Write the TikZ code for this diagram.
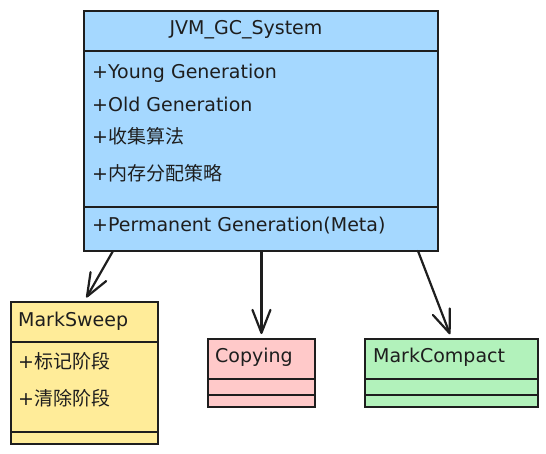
\documentclass[tikz,border=0pt]{standalone}
\usepackage{fontspec}
\setmainfont{DejaVu Sans}
\newfontfamily\cjk{Noto Sans CJK SC}
\usetikzlibrary{arrows.meta,calc}
\definecolor{ink}{HTML}{1E1E1E}
\definecolor{cblue}{HTML}{A5D8FF}
\definecolor{cyellow}{HTML}{FFEC99}
\definecolor{cpink}{HTML}{FFC9C9}
\definecolor{cgreen}{HTML}{B2F2BB}
\tikzset{
  umlbox/.style={draw=ink, line width=1.9pt, anchor=north west, inner sep=0pt, minimum width=#1},
  divider/.style={draw=ink, line width=1.5pt},
  lbl/.style={anchor=base west, inner sep=0pt, text=ink, font=\fontsize{19}{22}\selectfont},
  arr/.style={draw=ink, line width=2.2pt, line cap=round, shorten >=4pt,
    -{Straight Barb[length=23pt,width=18pt,line width=2.2pt,round]}}
}
\begin{document}
\begin{tikzpicture}[x=1pt,y=-1pt]
\useasboundingbox (0,0) rectangle (546,453);
% main class
\node[umlbox=354pt, fill=cblue, minimum height=240pt] (main) at (83,10) {};
\draw[divider] (83,51) -- (437,51);
\draw[divider] (83,207) -- (437,207);
\node[lbl, anchor=base] (t0) at (246,34) {JVM\_GC\_System};
\node[lbl] (t1) at (92,78) {+Young Generation};
\node[lbl] (t2) at (92,111) {+Old Generation};
\node[lbl] (t3) at (92,143) {+{\cjk 收集算法}};
\node[lbl] (t4) at (92,180) {+{\cjk 内存分配策略}};
\node[lbl] (t5) at (92,231) {+Permanent Generation(Meta)};
% MarkSweep
\node[umlbox=147pt, fill=cyellow, minimum height=142pt] (ms) at (10,301) {};
\draw[divider] (10,342) -- (157,342);
\draw[divider] (10,432) -- (157,432);
\node[lbl] (m0) at (18,326) {MarkSweep};
\node[lbl] (m1) at (18,368) {+{\cjk 标记阶段}};
\node[lbl] (m2) at (18,405) {+{\cjk 清除阶段}};
% Copying
\node[umlbox=107pt, fill=cpink, minimum height=68pt] (cp) at (207,338) {};
\draw[divider] (207,379) -- (314,379);
\draw[divider] (207,395) -- (314,395);
\node[lbl] (c0) at (215,362) {Copying};
% MarkCompact
\node[umlbox=173pt, fill=cgreen, minimum height=68pt] (mc) at (364,338) {};
\draw[divider] (364,379) -- (537,379);
\draw[divider] (364,395) -- (537,395);
\node[lbl] (k0) at (373,362) {MarkCompact};
% connectors
\coordinate (s1) at (113,251);
\coordinate (s2) at (cp.north |- main.south);
\coordinate (s3) at (418,251);
\draw[arr] (s1) -- (ms.north);
\draw[arr] (s2) -- (cp.north);
\draw[arr] (s3) -- (mc.north);
\end{tikzpicture}
\end{document}
